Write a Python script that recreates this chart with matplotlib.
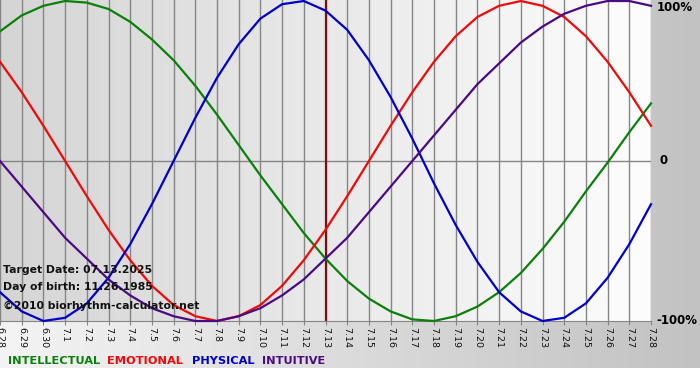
import numpy as np
import matplotlib
matplotlib.use('Agg')
import matplotlib.pyplot as plt
from matplotlib.colors import LinearSegmentedColormap
import matplotlib.transforms as mtransforms

# подписи дней и значения ритмов (в процентах)
days = ['6.28', '6.29', '6.30', '7.1', '7.2', '7.3', '7.4', '7.5', '7.6', '7.7',
        '7.8', '7.9', '7.10', '7.11', '7.12', '7.13', '7.14', '7.15', '7.16', '7.17',
        '7.18', '7.19', '7.20', '7.21', '7.22', '7.23', '7.24', '7.25', '7.26', '7.27',
        '7.28']

intellectual = [81, 91, 97, 100, 99, 95, 87, 76, 63, 47, 29, 10, -9, -27, -45, -61,
                -75, -86, -94, -99, -100, -97, -91, -82, -70, -55, -38, -19, -1, 18, 36]
emotional = [62, 43, 22, 0, -22, -43, -62, -78, -90, -97, -100, -97, -90, -78, -62, -43,
             -22, 0, 22, 43, 62, 78, 90, 97, 100, 97, 90, 78, 62, 43, 22]
physical = [-82, -94, -100, -98, -89, -73, -52, -27, 0, 27, 52, 73, 89, 98, 100, 94,
            82, 63, 40, 14, -14, -40, -63, -82, -94, -100, -98, -89, -73, -52, -27]
intuitive = [0, -16, -32, -48, -61, -74, -84, -92, -97, -100, -100, -97, -92, -84, -74, -61,
             -48, -32, -16, 0, 16, 32, 48, 61, 74, 84, 92, 97, 100, 100, 97]

target_day = '7.13'
target_text = 'Target Date: 07.13.2025'
birth_text = 'Day of birth: 11.26.1985'
copy_text = '\u00a92010 biorhythm-calculator.net'

W, H = 700, 380
fig = plt.figure(figsize=(W / 100, H / 100), dpi=100)
fig.patch.set_facecolor('white')

# фон за графиком (градиент слева направо)
bg = fig.add_axes([0, 12 / H, 1, 368 / H])
bg_cmap = LinearSegmentedColormap.from_list('bg', ['#f4f4f4', '#c2c2c2'])
bg.imshow(np.linspace(0, 1, 256).reshape(1, -1), cmap=bg_cmap, aspect='auto',
          extent=[0, 1, 0, 1])
bg.axis('off')

# область графика
ax = fig.add_axes([0, 59 / H, 651 / W, 321 / H])
x = np.arange(len(days))
top = 100.625
pa_cmap = LinearSegmentedColormap.from_list('pa', ['#d5d5d5', '#fdfdfd'])
ax.imshow(np.linspace(0, 1, 256).reshape(1, -1), cmap=pa_cmap, aspect='auto',
          extent=[x[0], x[-1], -100, top], zorder=0)

for xi in x:
    ax.axvline(xi, color='#858585', lw=1.0, zorder=1)
ax.axhline(0, color='#858585', lw=1.0, zorder=1)

ti = days.index(target_day)
ax.axvline(x[ti], color='#7a1010', lw=1.6, zorder=2)

ax.plot(x, intellectual, color='#0a800a', lw=1.6, zorder=3, clip_on=False)
ax.plot(x, emotional, color='#ee0a0a', lw=1.6, zorder=3, clip_on=False)
ax.plot(x, physical, color='#0000c8', lw=1.6, zorder=3, clip_on=False)
ax.plot(x, intuitive, color='#4b0a82', lw=1.6, zorder=3, clip_on=False)

ax.set_xlim(x[0], x[-1])
ax.set_ylim(-100, top)
for s in ['top', 'left', 'right']:
    ax.spines[s].set_visible(False)
ax.spines['bottom'].set_color('#858585')
ax.set_xticks(x)
ax.set_xticklabels(days, rotation=270, fontsize=6.8, color='#111111')
ax.tick_params(axis='x', length=3, color='#858585', pad=1)
ax.set_yticks([])

# подписи справа
tr = mtransforms.blended_transform_factory(ax.transAxes, ax.transData)
for val, lab in [(100, '100%'), (0, '0'), (-100, '-100%')]:
    ax.text(1.009 if val != 0 else 1.013, val - (4 if val == 100 else 0), lab,
            transform=tr, fontsize=8.5, fontweight='bold', va='center', ha='left',
            clip_on=False)

# текст слева внизу
for ypx, t in [(270, target_text), (287, birth_text), (306, copy_text)]:
    fig.text(3 / W, 1 - ypx / H, t, fontsize=7.8, fontweight='bold', va='center',
             ha='left', color='#111111')

# легенда
legend = [('INTELLECTUAL', '#0a800a', 8), ('EMOTIONAL', '#ee0a0a', 107),
          ('PHYSICAL', '#0000c8', 192), ('INTUITIVE', '#4b0a82', 262)]
for name, col, xpx in legend:
    fig.text(xpx / W, 1 - 361 / H, name, color=col, fontsize=8.2, fontweight='bold',
             va='center', ha='left')

fig.savefig('out.png', dpi=100)
